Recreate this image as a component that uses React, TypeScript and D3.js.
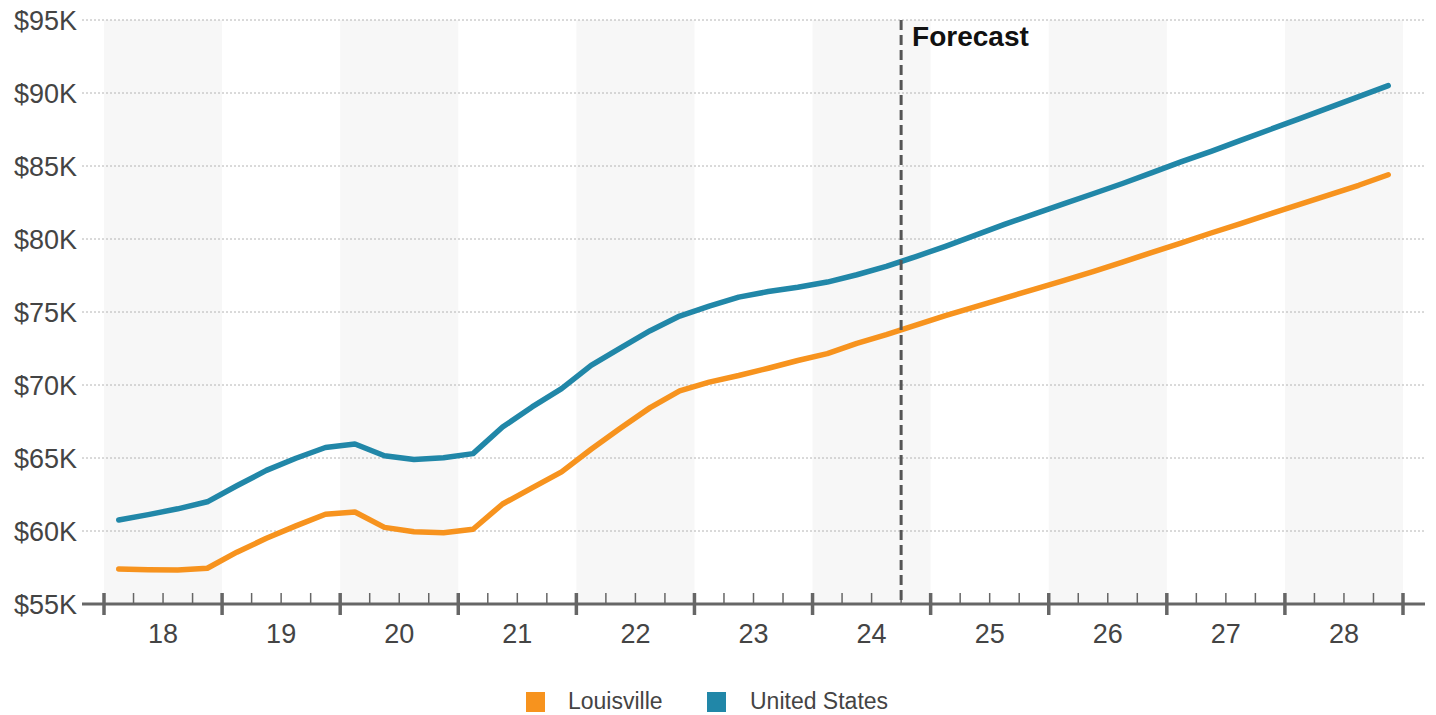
import React from "react";
import * as d3 from "d3";

// Quarterly income values (thousands of dollars), 2018 Q1 – 2028 Q4
const years = [18, 19, 20, 21, 22, 23, 24, 25, 26, 27, 28];

const louisville = [
  57.4, 57.35, 57.33, 57.45,
  58.55, 59.5, 60.35, 61.15,
  61.3, 60.25, 59.95, 59.88,
  60.12, 61.85, 62.95, 64.05,
  65.6, 67.05, 68.45, 69.6,
  70.2, 70.65, 71.15, 71.68,
  72.15, 72.85, 73.45, 74.1,
  74.75, 75.35, 75.95, 76.55,
  77.15, 77.77, 78.42, 79.09,
  79.74, 80.41, 81.06, 81.72,
  82.37, 83.03, 83.68, 84.4,
];

const unitedStates = [
  60.75, 61.12, 61.52, 62.0,
  63.1, 64.15, 64.98, 65.72,
  65.96, 65.15, 64.9, 65.02,
  65.3, 67.12, 68.5, 69.75,
  71.35, 72.55, 73.72, 74.72,
  75.4, 76.02, 76.4, 76.7,
  77.05, 77.55, 78.12, 78.8,
  79.5, 80.25, 81.0, 81.7,
  82.4, 83.1, 83.8, 84.55,
  85.3, 86.0, 86.75, 87.5,
  88.25, 89.0, 89.75, 90.5,
];

const yTicks = [55, 60, 65, 70, 75, 80, 85, 90, 95];
const forecastStart = 2024.75;

const seriesList = [
  { name: "Louisville", values: louisville, color: "#F7931E" },
  { name: "United States", values: unitedStates, color: "#2187A8" },
];

export default function App() {
  const width = 1436;
  const height = 715;
  const plotLeft = 104;
  const plotRight = 1403;
  const plotTop = 20;
  const plotBottom = 604;
  const lineLeft = 82;
  const lineRight = 1425;

  const x = d3.scaleLinear().domain([2018, 2029]).range([plotLeft, plotRight]);
  const y = d3.scaleLinear().domain([55, 95]).range([plotBottom, plotTop]);

  const quarterTime = (i: number) => 2018 + (i + 0.5) / 4;

  const line = d3
    .line<number>()
    .x((_, i) => x(quarterTime(i)))
    .y((d) => y(d));

  const yearStarts = years.map((yy) => 2000 + yy);
  const majorTicks = d3.range(2018, 2030);
  const minorTicks = d3
    .range(2018, 2029, 0.25)
    .filter((t) => Math.abs(t - Math.round(t)) > 0.01);

  const labelFont = "Arial, 'Liberation Sans', Helvetica, sans-serif";

  return (
    <svg
      width={width}
      height={height}
      style={{ position: "absolute", left: 0, top: 0, background: "#fff" }}
      fontFamily={labelFont}
    >
      {/* alternating year bands */}
      {yearStarts.map((ys, i) =>
        i % 2 === 0 ? (
          <rect
            key={ys}
            x={x(ys)}
            y={plotTop}
            width={x(ys + 1) - x(ys)}
            height={plotBottom - plotTop}
            fill="#f7f7f7"
          />
        ) : null
      )}

      {/* horizontal grid and y labels */}
      {yTicks.map((t) => (
        <g key={t}>
          {t !== 55 && (
            <line
              x1={lineLeft}
              x2={lineRight}
              y1={y(t)}
              y2={y(t)}
              stroke="#b4b4b4"
              strokeWidth={1}
              strokeDasharray="2,2"
            />
          )}
          <text
            x={77}
            y={y(t)}
            dy="0.36em"
            textAnchor="end"
            fontSize={27}
            fill="#444"
          >
            {`$${t}K`}
          </text>
        </g>
      ))}

      {/* x axis */}
      <line
        x1={lineLeft}
        x2={lineRight}
        y1={plotBottom}
        y2={plotBottom}
        stroke="#666"
        strokeWidth={3}
      />
      {majorTicks.map((t) => (
        <line
          key={`M${t}`}
          x1={x(t)}
          x2={x(t)}
          y1={plotBottom - 11}
          y2={plotBottom + 11}
          stroke="#666"
          strokeWidth={3.5}
        />
      ))}
      {minorTicks.map((t) => (
        <line
          key={`m${t}`}
          x1={x(t)}
          x2={x(t)}
          y1={plotBottom - 11}
          y2={plotBottom}
          stroke="#666"
          strokeWidth={1.5}
        />
      ))}
      {years.map((yy) => (
        <text
          key={`l${yy}`}
          x={x(2000 + yy + 0.5)}
          y={643}
          textAnchor="middle"
          fontSize={27}
          fill="#444"
        >
          {yy}
        </text>
      ))}

      {/* series lines */}
      {seriesList.map((s) => (
        <path
          key={s.name}
          d={line(s.values) ?? ""}
          fill="none"
          stroke={s.color}
          strokeWidth={5.5}
          strokeLinejoin="round"
          strokeLinecap="round"
        />
      ))}

      {/* forecast divider */}
      <line
        x1={x(forecastStart)}
        x2={x(forecastStart)}
        y1={plotTop}
        y2={plotBottom}
        stroke="#555"
        strokeWidth={3}
        strokeDasharray="10,5"
      />
      <text
        x={x(forecastStart) + 11}
        y={46}
        fontSize={28}
        fontWeight="bold"
        fill="#111"
      >
        Forecast
      </text>

      {/* legend */}
      <g>
        <rect x={526} y={692} width={19} height={20} fill={seriesList[0].color} />
        <text x={568} y={709} fontSize={23} fill="#444">
          {seriesList[0].name}
        </text>
        <rect x={707} y={692} width={19} height={20} fill={seriesList[1].color} />
        <text x={750} y={709} fontSize={23} fill="#444">
          {seriesList[1].name}
        </text>
      </g>
    </svg>
  );
}
